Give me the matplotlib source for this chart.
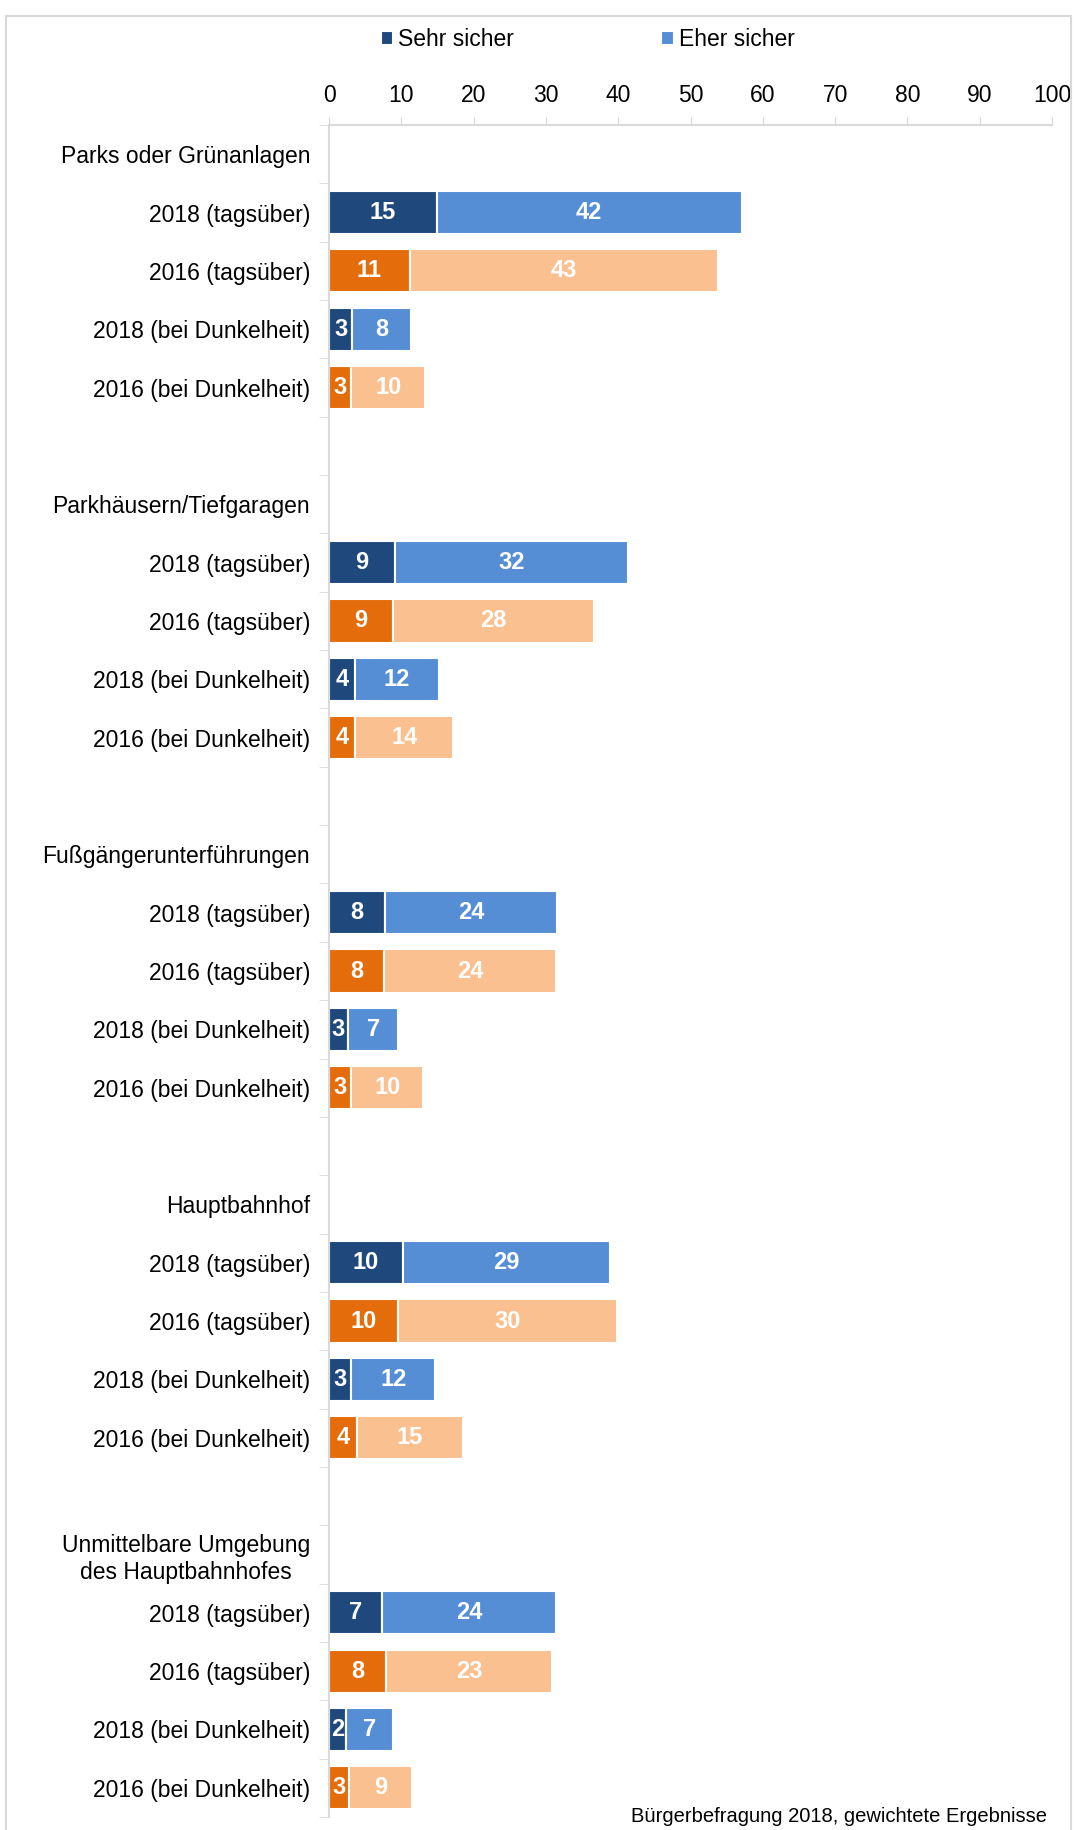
import numpy as np
import matplotlib
matplotlib.use('Agg')
from matplotlib import pyplot as plt
import matplotlib.patches as patches

plt.rcParams['font.family'] = ['Liberation Sans', 'DejaVu Sans']

# Group headers and the four rows under each
groups = ['Parks oder Grünanlagen',
          'Parkhäusern/Tiefgaragen',
          'Fußgängerunterführungen',
          'Hauptbahnhof',
          'Unmittelbare Umgebung\ndes Hauptbahnhofes']
row_labels = ['2018 (tagsüber)', '2016 (tagsüber)',
              '2018 (bei Dunkelheit)', '2016 (bei Dunkelheit)']
years = [2018, 2016, 2018, 2016]

# Values per group, in row order
sehr_sicher = [[14.9, 11.2, 3.2, 3.1],
               [9.1, 8.9, 3.6, 3.6],
               [7.8, 7.6, 2.6, 3.1],
               [10.2, 9.6, 3.1, 3.9],
               [7.3, 7.9, 2.3, 2.8]]
eher_sicher = [[42.2, 42.6, 8.1, 10.2],
               [32.2, 27.7, 11.6, 13.6],
               [23.8, 23.8, 7.0, 9.9],
               [28.7, 30.3, 11.6, 14.6],
               [24.1, 22.9, 6.6, 8.7]]

legend_labels = ['Sehr sicher', 'Eher sicher']
footer = 'Bürgerbefragung 2018, gewichtete Ergebnisse'

COLORS = {2018: ('#1F497D', '#558ED5'), 2016: ('#E46C0A', '#FAC090')}

# build the row list: header, 4 bars, blank (no blank after last group)
labels, pos_sehr, pos_eher, pos_year = [], [], [], []
for g, name in enumerate(groups):
    labels.append(name)
    pos_sehr.append(None)
    pos_eher.append(None)
    pos_year.append(None)
    for i in range(4):
        labels.append(row_labels[i])
        pos_sehr.append(sehr_sicher[g][i])
        pos_eher.append(eher_sicher[g][i])
        pos_year.append(years[i])
    if g < len(groups) - 1:
        labels.append('')
        pos_sehr.append(None)
        pos_eher.append(None)
        pos_year.append(None)

n = len(labels)
ypos = np.arange(n)

fig = plt.figure(figsize=(10.75, 18.3), dpi=100)
ax = fig.add_axes([329 / 1075, 1 - 1817 / 1830, (1052 - 329) / 1075, (1817 - 125) / 1830])

handles = {}
for y, s, e, yr in zip(ypos, pos_sehr, pos_eher, pos_year):
    if s is None:
        continue
    c1, c2 = COLORS[yr]
    b1 = ax.barh(y, s, height=0.74, color=c1, edgecolor='white', linewidth=1.5)
    b2 = ax.barh(y, e, left=s, height=0.74, color=c2, edgecolor='white', linewidth=1.5)
    if yr == 2018:
        handles[0] = b1
        handles[1] = b2
    ax.text(s / 2, y, '%d' % round(s), ha='center', va='center', color='white',
            fontsize=17, fontweight='bold')
    ax.text(s + e / 2, y, '%d' % round(e), ha='center', va='center', color='white',
            fontsize=17, fontweight='bold')

ax.set_xlim(0, 100)
ax.set_ylim(n - 0.5, -0.5)
ax.xaxis.tick_top()
ax.set_xticks(np.arange(0, 101, 10))
ax.tick_params(axis='x', colors='#D9D9D9', labelcolor='black', labelsize=16.5, length=6, pad=7)
ax.set_yticks(ypos)
ax.set_yticklabels(labels, fontsize=16.5, multialignment='center')
ax.set_yticks(np.arange(-0.5, n, 1), minor=True)
ax.tick_params(axis='y', which='major', length=0, pad=13.5)
ax.tick_params(axis='y', which='minor', length=7, color='#D9D9D9')
for side in ['right', 'bottom']:
    ax.spines[side].set_visible(False)
for side in ['left', 'top']:
    ax.spines[side].set_color('#D9D9D9')
    ax.spines[side].set_linewidth(1.5)

ax.legend([handles[0], handles[1]], legend_labels, loc='center',
          bbox_to_anchor=(0.5465, 1 - 40 / 1830), bbox_transform=fig.transFigure,
          ncol=2, frameon=False, fontsize=16.5, handlelength=0.55, handleheight=0.55,
          handletextpad=0.2, columnspacing=6.45)

# outer frame
fig.patches.append(patches.Rectangle((6 / 1075, -0.01), (1071 - 6) / 1075, 1.01 - 16 / 1830,
                                     transform=fig.transFigure, fill=False,
                                     edgecolor='#D9D9D9', linewidth=1.5))

fig.text(1047 / 1075, 1 - 1817 / 1830, footer, ha='right', va='center', fontsize=14.5)

plt.savefig('out.png', dpi=100)
